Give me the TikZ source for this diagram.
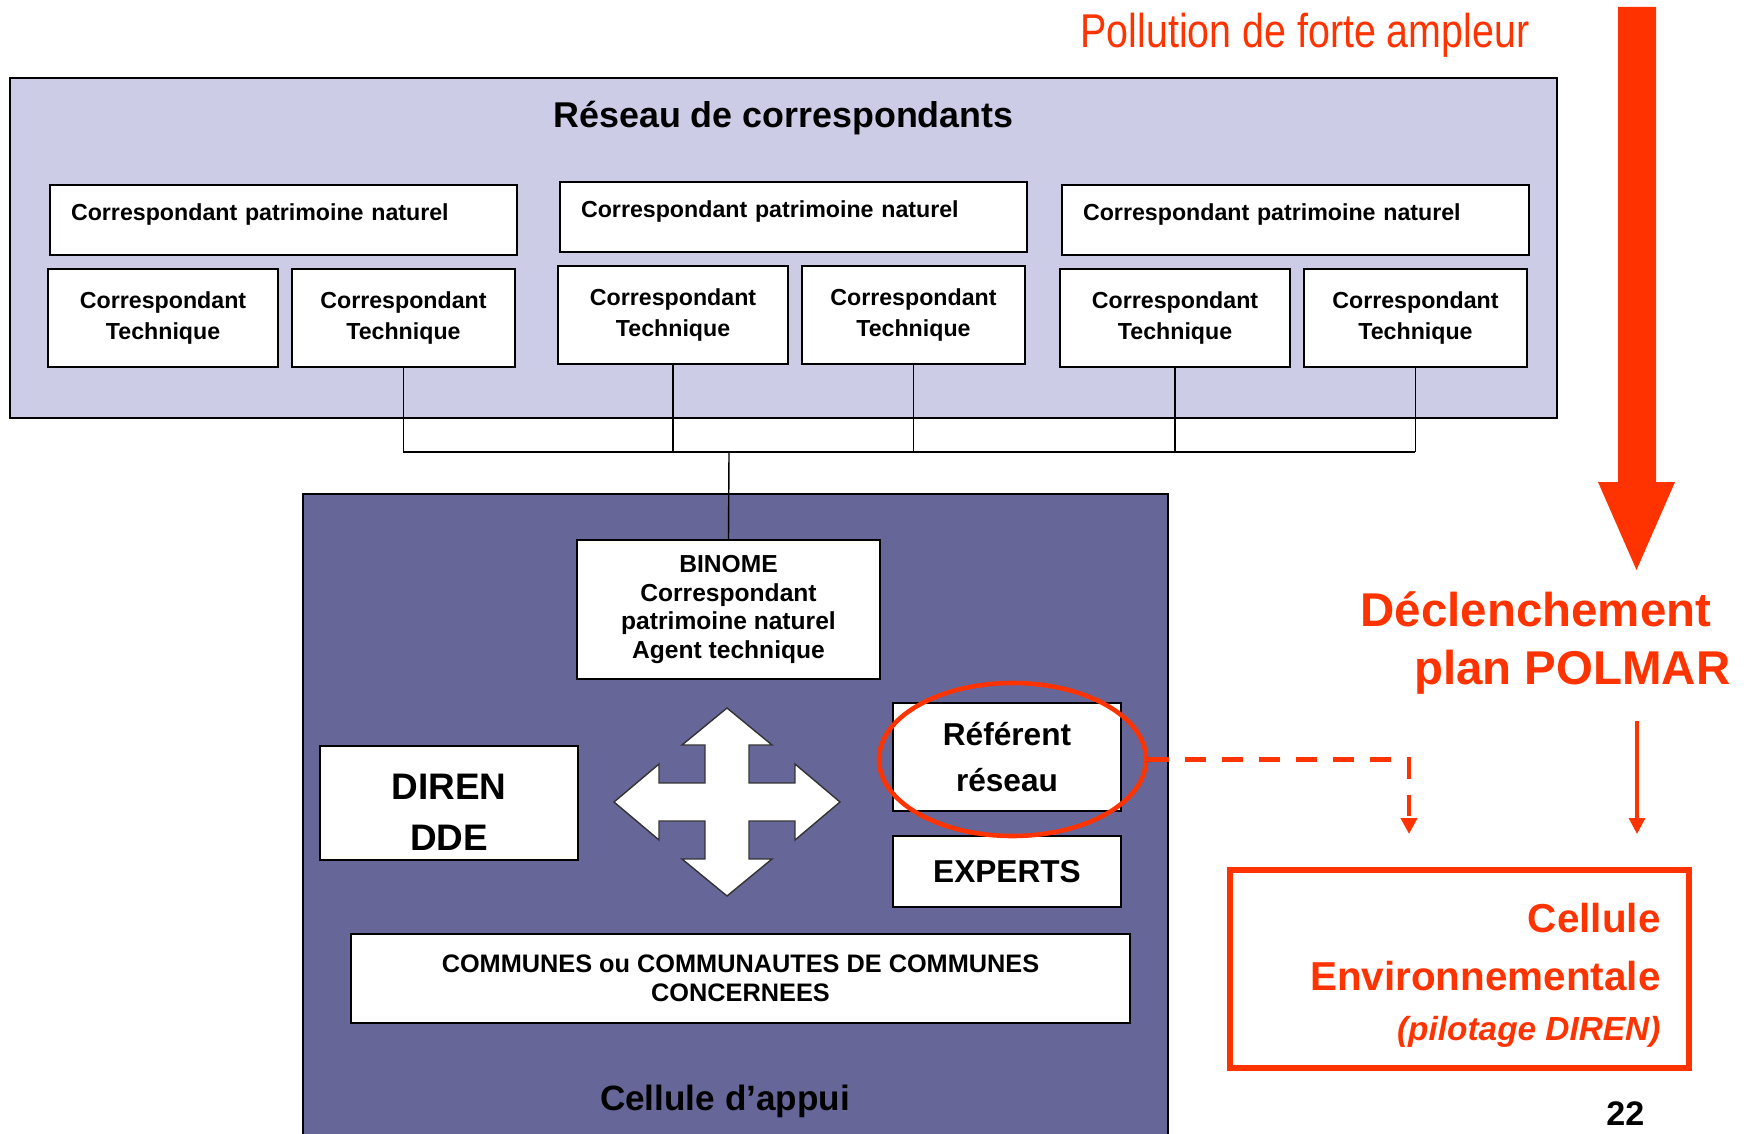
\documentclass[tikz,border=0pt]{standalone}
\usepackage{fontspec}
\setmainfont{Liberation Sans}
\newfontfamily\schmalfont[FakeStretch=0.83]{Liberation Sans}
\usepackage{tikz}
\usetikzlibrary{positioning}
\usetikzlibrary{shapes.geometric}
\usetikzlibrary{arrows.meta}
\definecolor{lavendel}{RGB}{204,204,230}
\definecolor{violett}{RGB}{102,102,153}
\definecolor{polmarrot}{RGB}{255,51,0}

\begin{document}
\begin{tikzpicture}[x=0.1mm, y=-0.1mm,
	patr/.style={draw, fill=white, line width=0.6pt, minimum width=46.7mm, minimum height=7mm, text width=42.5mm, text depth=4.6pt, align=left, inner xsep=2mm, font=\fontsize{6.6}{8.8}\selectfont\bfseries},
	tech/.style={draw, fill=white, line width=0.6pt, minimum height=9.8mm, align=center, font=\fontsize{6.6}{8.8}\selectfont\bfseries},
	kasten/.style={draw, fill=white, line width=0.6pt, align=center, inner sep=0pt},
	verb/.style={line width=0.4pt},
	rotgestr/.style={polmarrot, line width=1.2pt, dash pattern=on 2.1mm off 1.6mm},
	rottext/.style={anchor=base east, inner xsep=0pt, text=polmarrot}
	]
	\tikzset{>={Triangle[length=1.6mm, width=1.6mm]}}
	\useasboundingbox (0,0) rectangle (1751,1134);
	
	% Netz der Korrespondenten
	\draw[fill=lavendel, line width=0.7pt] (10,78) rectangle (1557,418);
	\node[anchor=base, font=\fontsize{10.2}{12}\selectfont\bfseries] (reseau) at (783.5,128) {Réseau de correspondants};
	
	% drei Gruppen
	\foreach \n/\x/\y in {1/49/184, 2/559/181, 3/1061/184}{
		\node[patr, anchor=north west] (p\n) at (\x,\y) {Correspondant patrimoine naturel};
		\node[tech, minimum width=23mm, anchor=north west] (t\n1) at (\x-2,\y+84) {Correspondant\\Technique};
		\node[tech, minimum width=22.3mm, anchor=north east] (t\n2) at (\x+467,\y+84) {Correspondant\\Technique};
	}
	
	% Cellule d'appui
	\fill[violett] (303,494) rectangle (1168,1134);
	\draw[line width=0.7pt] (303,1134) |- (1168,494) -- (1168,1134);
	
	\node[kasten, minimum width=30.3mm, minimum height=13.9mm, font=\fontsize{7}{8.2}\selectfont\bfseries] (binome) at (728.5,609.5) {BINOME\\Correspondant\\patrimoine naturel\\Agent technique};
	\node[kasten, minimum width=25.85mm, minimum height=11.35mm,
		label={[font=\fontsize{10.5}{14.4}\selectfont\bfseries, align=center, yshift=-2.6pt]center:DIREN\\DDE}] (diren) at (449,803) {};
	\node[kasten, minimum width=22.8mm, minimum height=10.85mm, font=\fontsize{9}{13}\selectfont\bfseries] (ref) at (1007,757) {Référent\\réseau};
	\node[kasten, minimum width=22.8mm, minimum height=7.05mm, font=\fontsize{9}{11}\selectfont\bfseries, below=2.3mm of ref] (experts) {EXPERTS};
	\node[kasten, minimum width=77.9mm, minimum height=8.9mm, font=\fontsize{7.2}{8.1}\selectfont\bfseries] (communes) at (740.5,978.5) {COMMUNES ou COMMUNAUTES DE COMMUNES\\CONCERNEES};
	\node[anchor=base, font=\fontsize{10}{12}\selectfont\bfseries] (appui) at (725,1110) {Cellule d’appui};
	
	% Verbindungen
	\coordinate (bus) at (729,452);
	\foreach \t in {t12,t21,t22,t31,t32}
		\draw[verb] (\t.south) -- (\t.south |- bus);
	\draw[verb] (t12.south |- bus) -- (t32.south |- bus);
	\draw[verb] (bus) -- (binome.north);
	
	% Kreuzpfeil
	\filldraw[fill=white, draw=black!80, line width=0.4pt, shift={(727,802)}]
		(0,-94) -- (45,-57) -- (22,-57) -- (22,-19) -- (68,-19) -- (68,-38) -- (113,0)
		-- (68,38) -- (68,19) -- (22,19) -- (22,57) -- (45,57) -- (0,94)
		-- (-45,57) -- (-22,57) -- (-22,19) -- (-68,19) -- (-68,38) -- (-113,0)
		-- (-68,-38) -- (-68,-19) -- (-22,-19) -- (-22,-57) -- (-45,-57) -- cycle;
	
	\node[ellipse, draw=polmarrot, line width=1.3pt, minimum width=26.7mm, minimum height=15.3mm, inner sep=0pt] (kreis) at (1012.5,759.5) {};
	
	% POLMAR
	\node[rottext, font=\schmalfont\fontsize{13.5}{16}\selectfont] (pollution) at (1530,48) {Pollution de forte ampleur};
	\fill[polmarrot] (1618,7) -- (1656,7) -- (1656,482) -- (1675,482) -- (1636.5,570) -- (1598,482) -- (1618,482) -- cycle;
	\node[rottext, font=\fontsize{13.5}{16.5}\selectfont\bfseries] (decl) at (1712,626) {Déclenchement};
	\node[rottext, font=\fontsize{13.5}{16.5}\selectfont\bfseries] (polmar) at (1731,684) {plan POLMAR};
	
	\coordinate (pstart) at (1637,721);
	\coordinate (pende) at (1637,834);
	\coordinate (gende) at (1409,834);
	\draw[polmarrot, line width=0.9pt, ->] (pstart) -- (pende);
	\draw[rotgestr, ->] (kreis.east) -| (gende);
	
	\node[draw=polmarrot, line width=1.8pt, minimum width=45.9mm, minimum height=19.8mm,
		label={[anchor=east, inner sep=0pt, xshift=-3.1mm, yshift=-1.9pt, text=polmarrot, align=right, font=\fontsize{11.5}{16.5}\selectfont\bfseries]east:Cellule\\Environnementale\\[-2.3pt]{\fontsize{9.5}{14.5}\selectfont\itshape (pilotage DIREN)}}] (cenv) at (1459.5,969) {};
	
	% Seitenzahl
	\node[anchor=base east, inner xsep=0pt, font=\fontsize{9.7}{11}\selectfont\bfseries] (seite) at (1645,1125) {22};
\end{tikzpicture}
\end{document}
